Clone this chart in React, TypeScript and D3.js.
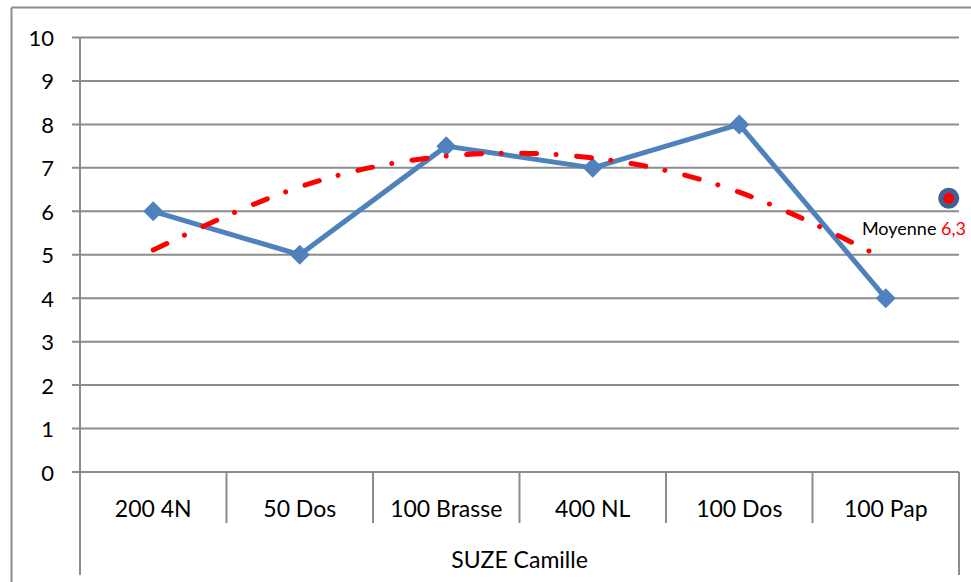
import React from "react";
import * as d3 from "d3";

const categories = ["200 4N", "50 Dos", "100 Brasse", "400 NL", "100 Dos", "100 Pap"];
const scores = [6, 5, 7.5, 7, 8, 4];
const trend = [5.11, 6.56, 7.27, 7.23, 6.44, 4.89];
const groupLabel = "SUZE Camille";
const yTicks = [0, 1, 2, 3, 4, 5, 6, 7, 8, 9, 10];
const averageValue = 6.3;
const averageIndex = 5.93;
const averageLabel = "Moyenne ";
const averageText = "6,3";

const W = 971;
const H = 582;
const left = 80;
const right = 959;
const top = 37.5;
const bottom = 472;
const font = "Lato, 'Open Sans', sans-serif";
const grid = "#8c8c8c";

export default function App() {
  const x = d3.scaleBand<string>().domain(categories).range([left, right]).padding(0);
  const xi = d3.scaleLinear().domain([0, categories.length]).range([left, right]);
  const y = d3.scaleLinear().domain([0, 10]).range([bottom, top]);
  const cx = (c: string) => (x(c) as number) + x.bandwidth() / 2;

  const line = d3
    .line<number>()
    .x((_, i) => cx(categories[i]))
    .y((d) => y(d));
  const trendLine = d3
    .line<number>()
    .x((_, i) => cx(categories[i]))
    .y((d) => y(d))
    .curve(d3.curveNatural);

  const diamond = (px: number, py: number, r: number) =>
    `M${px},${py - r}L${px + r},${py}L${px},${py + r}L${px - r},${py}Z`;

  return (
    <svg width={W} height={H} style={{ position: "absolute", left: 0, top: 0, background: "#fff" }}>
      {/* outer frame */}
      <line x1={11.5} x2={11.5} y1={7.5} y2={H} stroke={grid} strokeWidth={2} />
      <line x1={11.5} x2={W} y1={7.5} y2={7.5} stroke={grid} strokeWidth={2} />

      {/* gridlines and ticks */}
      {yTicks.map((t) => (
        <g key={t}>
          <line x1={left - 8} x2={right} y1={y(t)} y2={y(t)} stroke={grid} strokeWidth={2} />
          <text
            x={54}
            y={y(t)}
            textAnchor="end"
            dominantBaseline="central"
            fontFamily={font}
            fontSize={22}
            fill="#000"
          >
            {t}
          </text>
        </g>
      ))}

      {/* axis lines */}
      <line x1={left} x2={left} y1={top} y2={575} stroke={grid} strokeWidth={2} />
      <line x1={right} x2={right} y1={bottom} y2={575} stroke={grid} strokeWidth={2} />
      {categories.slice(1).map((c) => (
        <line
          key={c}
          x1={x(c) as number}
          x2={x(c) as number}
          y1={bottom}
          y2={523}
          stroke={grid}
          strokeWidth={2}
        />
      ))}
      {categories.map((c) => (
        <text
          key={c}
          x={cx(c)}
          y={508}
          textAnchor="middle"
          dominantBaseline="central"
          fontFamily={font}
          fontSize={23}
          fill="#000"
        >
          {c}
        </text>
      ))}
      <text
        x={(left + right) / 2}
        y={559}
        textAnchor="middle"
        dominantBaseline="central"
        fontFamily={font}
        fontSize={23}
        fill="#000"
      >
        {groupLabel}
      </text>

      {/* series */}
      <path d={line(scores) || ""} fill="none" stroke="#4F81BD" strokeWidth={5} strokeLinejoin="round" />
      {scores.map((v, i) => (
        <path key={i} d={diamond(cx(categories[i]), y(v), 10)} fill="#4F81BD" />
      ))}

      {/* trend line */}
      <path
        d={trendLine(trend) || ""}
        fill="none"
        stroke="#FF0000"
        strokeWidth={5}
        strokeLinecap="round"
        strokeDasharray="15 19.5 0.01 20.5"
      />

      {/* average marker */}
      <circle cx={xi(averageIndex)} cy={y(averageValue)} r={10.5} fill="#3F6296" />
      <circle cx={xi(averageIndex)} cy={y(averageValue)} r={5.5} fill="#FF0000" />
      <text x={966} y={228} textAnchor="end" dominantBaseline="central" fontFamily={font} fontSize={18}>
        <tspan fill="#000">{averageLabel}</tspan>
        <tspan fill="#FF0000">{averageText}</tspan>
      </text>
    </svg>
  );
}
